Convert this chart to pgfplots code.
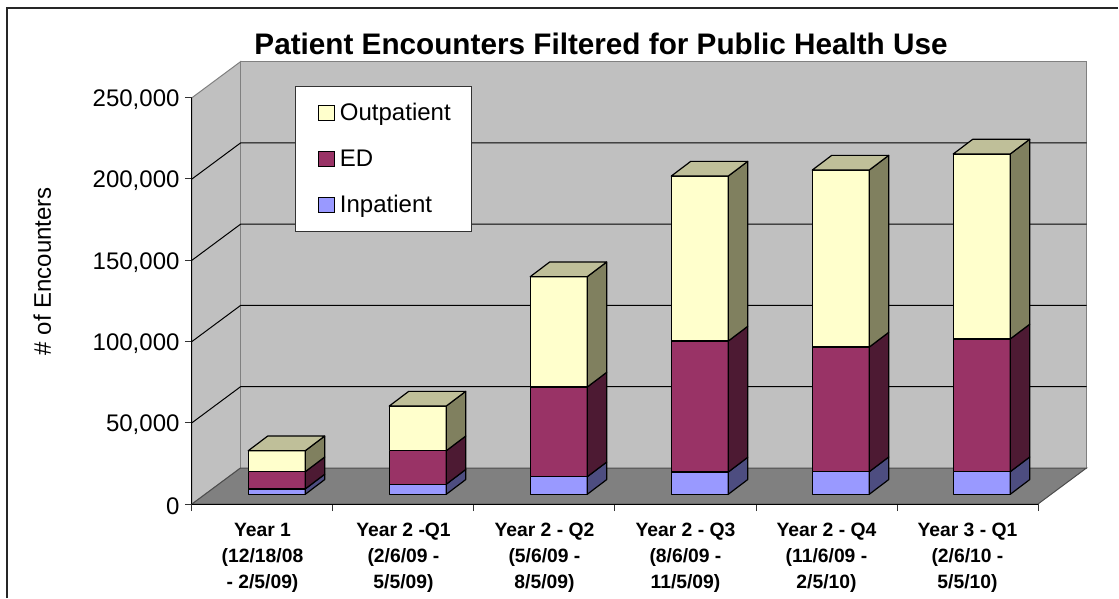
\documentclass[border=0pt]{standalone}
\usepackage{fontspec}
\setmainfont{Liberation Sans}
\usepackage{pgfplots}
\pgfplotsset{compat=1.18}
\definecolor{wall}{HTML}{C0C0C0}
\definecolor{floorc}{HTML}{808080}
\definecolor{outF}{HTML}{FFFFCC}
\definecolor{outS}{HTML}{80805F}
\definecolor{outT}{HTML}{BFBF99}
\definecolor{edF}{HTML}{993366}
\definecolor{edS}{HTML}{4D1A33}
\definecolor{inF}{HTML}{9999FF}
\definecolor{inS}{HTML}{4D4D80}
\newcommand{\px}[1]{\fontsize{#1}{26}\selectfont}
% depth of the box and of the bars, in axis units
\def\wx{0.344}\def\wy{22150}
\def\bx{0.399}\def\bw{0.404}\def\by{5970}\def\sx{0.138}\def\sy{9045}
% category, from, to, front colour, side colour
\newcommand{\segment}[5]{%
  \addplot[forget plot,fill=#4,draw=black,line width=1.2pt,line join=round] coordinates {
    (\fpeval{#1+\bx},\fpeval{\by+#2}) (\fpeval{#1+\bx+\bw},\fpeval{\by+#2})
    (\fpeval{#1+\bx+\bw},\fpeval{\by+#3}) (\fpeval{#1+\bx},\fpeval{\by+#3})} -- cycle;
  \addplot[forget plot,fill=#5,draw=black,line width=1.2pt,line join=round] coordinates {
    (\fpeval{#1+\bx+\bw},\fpeval{\by+#2}) (\fpeval{#1+\bx+\bw+\sx},\fpeval{\by+#2+\sy})
    (\fpeval{#1+\bx+\bw+\sx},\fpeval{\by+#3+\sy}) (\fpeval{#1+\bx+\bw},\fpeval{\by+#3})} -- cycle;
}
% category, inpatient, ED, outpatient
\newcommand{\stackbar}[4]{%
  \segment{#1}{0}{#2}{inF}{inS}
  \segment{#1}{#2}{\fpeval{#2+#3}}{edF}{edS}
  \segment{#1}{\fpeval{#2+#3}}{\fpeval{#2+#3+#4}}{outF}{outS}
  \addplot[forget plot,fill=outT,draw=black,line width=1.2pt,line join=round] coordinates {
    (\fpeval{#1+\bx},\fpeval{\by+#2+#3+#4}) (\fpeval{#1+\bx+\bw},\fpeval{\by+#2+#3+#4})
    (\fpeval{#1+\bx+\bw+\sx},\fpeval{\by+#2+#3+#4+\sy}) (\fpeval{#1+\bx+\sx},\fpeval{\by+#2+#3+#4+\sy})} -- cycle;
}
\newcommand{\gridline}[1]{%
  \addplot[forget plot,black,line width=1pt] coordinates {
    (0,#1) (\wx,\fpeval{#1+\wy}) (\fpeval{6+\wx},\fpeval{#1+\wy})};
}
\begin{document}
\begin{tikzpicture}
\useasboundingbox (-192pt,-94pt) rectangle (927pt,504pt);
\draw[color=black!85,line width=2pt] (-184.5pt,-94pt) -- (-184.5pt,496pt) -- (925.5pt,496pt);
\begin{axis}[
    scale only axis, width=846pt, height=406.3pt,
    xmin=0, xmax=6, ymin=0, ymax=250000,
    clip=false, axis on top,
    axis x line*=bottom, axis y line*=left,
    axis line style={black,line width=1pt,-},
    xtick={0.5,1.5,2.5,3.5,4.5,5.5},
    minor xtick={0,1,2,3,4,5,6},
    major x tick style={draw=none},
    minor x tick style={black!80,line width=1pt},
    y tick style={black!80,line width=1pt},
    tick align=outside,
    major tick length=7pt, minor tick length=7pt,
    ytick={0,50000,100000,150000,200000,250000},
    scaled y ticks=false,
    /pgf/number format/fixed,
    /pgf/number format/1000 sep={,},
    /pgf/number format/assume math mode=true,
    yticklabel style={font=\px{24}, xshift=-2pt, yshift=-2pt},
    xticklabel style={font=\px{19.3}\bfseries, align=center, yshift=-8.5pt},
    xticklabels={{Year 1\\(12/18/08\\- 2/5/09)},{Year 2 -Q1\\(2/6/09 -\\5/5/09)},
      {Year 2 - Q2\\(5/6/09 -\\8/5/09)},{Year 2 - Q3\\(8/6/09 -\\11/5/09)},
      {Year 2 - Q4\\(11/6/09 -\\2/5/10)},{Year 3 - Q1\\(2/6/10 -\\5/5/10)}},
    ylabel={\# of Encounters},
    every axis y label/.style={at={(axis description cs:-0.177,0.573)},rotate=90,anchor=center,font=\px{24}},
    title={Patient Encounters Filtered for Public Health Use},
    every axis title/.style={at={(axis description cs:0.4835,1.132)},anchor=center,font=\px{29.7}\bfseries},
    legend style={at={(axis description cs:0.1217,1.0288)},anchor=north west,
      draw=black!80,line width=1pt,fill=white,font=\px{24},
      inner xsep=19pt,inner ysep=15pt,row sep=23.5pt},
    legend cell align=left,
]
% walls and floor
\addplot[forget plot,fill=wall,draw=floorc,line width=1pt] coordinates {
  (0,0) (\wx,\wy) (\wx,\fpeval{250000+\wy}) (0,250000)} -- cycle;
\addplot[forget plot,fill=wall,draw=floorc,line width=1pt] coordinates {
  (\wx,\wy) (\fpeval{6+\wx},\wy) (\fpeval{6+\wx},\fpeval{250000+\wy}) (\wx,\fpeval{250000+\wy})} -- cycle;
\addplot[forget plot,fill=floorc,draw=black!70,line width=1pt] coordinates {
  (0,0) (6,0) (\fpeval{6+\wx},\wy) (\wx,\wy)} -- cycle;
\gridline{50000}\gridline{100000}\gridline{150000}\gridline{200000}
% inpatient, ED, outpatient
\stackbar{0}{3300}{10600}{12900}
\stackbar{1}{6200}{20600}{27500}
\stackbar{2}{10800}{55200}{67900}
\stackbar{3}{13700}{80600}{101500}
\stackbar{4}{13900}{76700}{108900}
\stackbar{5}{13900}{81700}{113800}
\pgfplotsset{legend image code/.code={
  \path[draw=none,fill=none] (0pt,0pt) -- (23.5pt,0pt);
  \draw[#1,line width=0.8pt] (4pt,-7.5pt) rectangle (19.5pt,7.5pt);}}
\addlegendimage{fill=outF,draw=black}\addlegendentry{Outpatient}
\addlegendimage{fill=edF,draw=black}\addlegendentry{ED}
\addlegendimage{fill=inF,draw=black}\addlegendentry{Inpatient}
\end{axis}
\end{tikzpicture}
\end{document}
